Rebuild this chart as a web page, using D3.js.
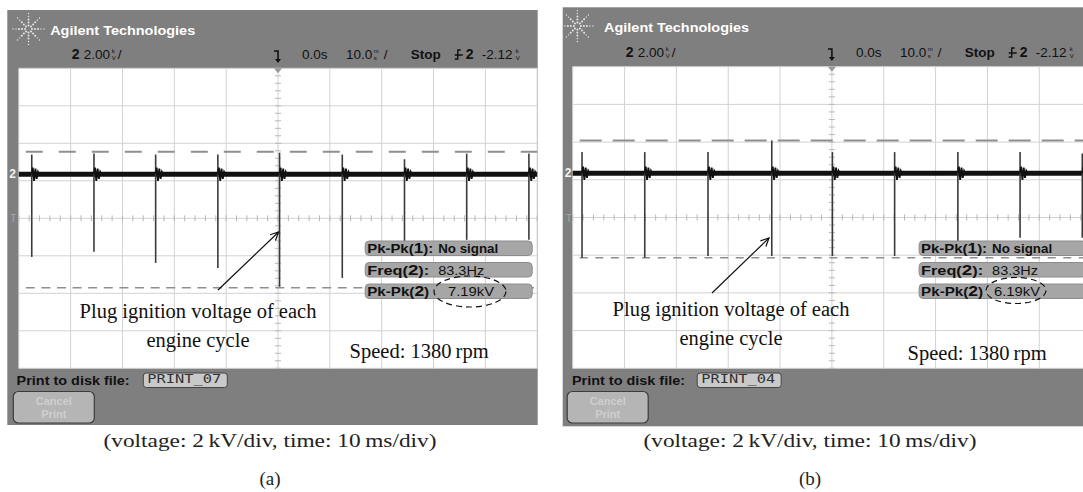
<!DOCTYPE html>
<html>
<head>
<meta charset="utf-8">
<script src="https://cdn.jsdelivr.net/npm/d3@7"></script>
<style>
  body { margin: 0; background: #fff; }
  svg { display: block; }
</style>
</head>
<body>
<div id="chart"></div>
<script>
// Data
//-----------
var timeTicks = [-50, -40, -30, -20, -10, 0, 10, 20, 30, 40, 50];   // ms, 10 ms/div
var voltDomain = [-10.35, 5.65];                                     // kV, 2 kV/div, ground 2.83 div below top

var spikeTimesA = [-47.5, -35.5, -23.6, -11.6, 0.3, 12.4, 24.4, 36.4, 48.4];
var spikeLowA   = [-4.41, -4.14, -4.73, -5.0, -6.0, -5.53, -4.0, -3.5, -3.5];
var spikeHighA  = [1.05, 1.1, 1.05, 1.05, 1.15, 1.05, 0.8, 1.1, 1.1];
var cursorsA    = [1.2, -6.06];

var spikeTimesB = [-48.2, -36.1, -23.9, -11.6, 0.1, 12.1, 24.3, 36.3, 48.3];
var spikeLowB   = [-4.48, -4.48, -4.39, -4.39, -4.39, -4.39, -4.0, -3.42, -3.42];
var spikeHighB  = [1.12, 1.12, 1.12, 1.74, 1.12, 1.12, 1.12, 1.12, 1.05];
var cursorsB    = [1.74, -4.48];

// ringing after each spike: [ms after spike, kV]
var ringShape = [[0.2, 0.35], [0.45, -0.35], [0.7, 0.3], [0.95, -0.25], [1.2, 0.12], [1.4, 0]];

var measLabels = ["Pk-Pk(", "Freq(", "Pk-Pk("];
var measChannels = ["1", "2", "2"];
var measValuesA = ["No signal", "83.3Hz", "7.19kV"];
var measValuesB = ["No signal", "83.3Hz", "6.19kV"];

var fileNames = ["PRINT_07", "PRINT_04"];
var panelTags = ["(a)", "(b)"];
var caption = "(voltage: 2\u2009kV/div, time: 10\u2009ms/div)";
var noteLines = ["Plug ignition voltage of each", "engine cycle"];
var speedText = "Speed: 1380\u2009rpm";

// Layout of each panel
//-----------
var W = 1083, H = 492;
var panels = [
  { frame: {x: 7.3, y: 10, w: 530.4, h: 415}, grid: {x: 18.8, y: 68.3, w: 518.4, h: 300},
    times: spikeTimesA, low: spikeLowA, high: spikeHighA, cursors: cursorsA,
    dashUp: "17 16", dashLow: "9 6.6", values: measValuesA, file: fileNames[0], tag: panelTags[0],
    logo: {x: 28.5, y: 29}, headY: 35, rowY: 59,
    note: {x: 198, y: 318}, arrow: [[218, 290], [278.6, 232]], ellipse: {cx: 470, cy: 291.5, rx: 36, ry: 15.5},
    valueX: 448, speed: {x: 349.6, y: 358.3}, cx: 270 },
  { frame: {x: 562.7, y: 7.3, w: 530, h: 419}, grid: {x: 572.7, y: 66.7, w: 518.4, h: 301.6},
    times: spikeTimesB, low: spikeLowB, high: spikeHighB, cursors: cursorsB,
    dashUp: "22 11", dashLow: "8 7.6", values: measValuesB, file: fileNames[1], tag: panelTags[1],
    logo: {x: 577.4, y: 26}, headY: 32, rowY: 57,
    note: {x: 731, y: 316}, arrow: [[712, 293], [769, 238]], ellipse: {cx: 1016, cy: 290.5, rx: 30, ry: 13},
    valueX: 994, speed: {x: 907.6, y: 360}, cx: 810 }
];

var svg = d3.select("#chart").append("svg")
  .attr("width", W)
  .attr("height", H);

var sans = "'Liberation Sans', Arial, sans-serif";
var serif = "'Liberation Serif', 'Times New Roman', serif";

// tiny stacked unit, e.g. k over V
function stackUnit(g, x, y, top, bottom) {
  g.append("text").attr("x", x).attr("y", y - 6.5).text(top)
    .attr("font-family", sans).attr("font-size", "6px").attr("fill", "#111");
  g.append("text").attr("x", x).attr("y", y + 0.8).text(bottom)
    .attr("font-family", sans).attr("font-size", "6px").attr("fill", "#111");
}

function rowText(g, x, y, s, bold, size) {
  return g.append("text").attr("x", x).attr("y", y).text(s)
    .attr("font-family", sans).attr("font-weight", bold ? "bold" : "normal")
    .attr("font-size", (size || 13.5) + "px").attr("fill", "#111");
}

function drawPanel(p) {
  var g = svg.append("g");
  var gx = p.grid.x, gy = p.grid.y;

  // Scales
  //-----------
  var x = d3.scaleLinear([-50, 50], [gx, gx + p.grid.w]);
  var y = d3.scaleLinear(voltDomain, [gy + p.grid.h, gy]);
  var divT = 10, divV = 2;
  var voltTicks = d3.range(0, 9).map(function(i) { return voltDomain[0] + i * divV; });
  var vCenter = voltDomain[0] + 4 * divV;

  // Frame + screen
  g.append("rect").attr("x", p.frame.x).attr("y", p.frame.y)
    .attr("width", p.frame.w).attr("height", p.frame.h).attr("fill", "#7f7f7f");
  g.append("rect").attr("x", gx).attr("y", gy)
    .attr("width", p.grid.w).attr("height", p.grid.h).attr("fill", "#fff");

  // Grid
  //-----------
  g.selectAll(".vg").data(timeTicks).enter().append("line")
    .attr("x1", function(d) { return x(d); }).attr("x2", function(d) { return x(d); })
    .attr("y1", gy).attr("y2", gy + p.grid.h)
    .attr("stroke", "#d2d2d2").attr("stroke-width", 1);
  g.selectAll(".hg").data(voltTicks).enter().append("line")
    .attr("x1", gx).attr("x2", gx + p.grid.w)
    .attr("y1", function(d) { return y(d); }).attr("y2", function(d) { return y(d); })
    .attr("stroke", "#d2d2d2").attr("stroke-width", 1);

  // minor ticks on the centre lines
  var tMinor = d3.range(-50, 50.01, divT / 5);
  g.selectAll(".tm").data(tMinor).enter().append("line")
    .attr("x1", function(d) { return x(d); }).attr("x2", function(d) { return x(d); })
    .attr("y1", y(vCenter) - 3).attr("y2", y(vCenter) + 3)
    .attr("stroke", "#b8b8b8").attr("stroke-width", 1);
  var vMinor = d3.range(voltDomain[0], voltDomain[1] + 0.01, divV / 5);
  g.selectAll(".vm").data(vMinor).enter().append("line")
    .attr("x1", x(0) - 3).attr("x2", x(0) + 3)
    .attr("y1", function(d) { return y(d); }).attr("y2", function(d) { return y(d); })
    .attr("stroke", "#b8b8b8").attr("stroke-width", 1);

  // Cursors
  //-----------
  g.append("line").attr("x1", gx + 7).attr("x2", gx + p.grid.w)
    .attr("y1", y(p.cursors[0])).attr("y2", y(p.cursors[0]))
    .attr("stroke", "#8f8f8f").attr("stroke-width", 2).attr("stroke-dasharray", p.dashUp);
  g.append("line").attr("x1", gx + 7).attr("x2", gx + p.grid.w)
    .attr("y1", y(p.cursors[1])).attr("y2", y(p.cursors[1]))
    .attr("stroke", "#8f8f8f").attr("stroke-width", 1.5).attr("stroke-dasharray", p.dashLow);

  // Trace
  //-----------
  g.append("line").attr("x1", gx).attr("x2", gx + p.grid.w)
    .attr("y1", y(0)).attr("y2", y(0))
    .attr("stroke", "#111").attr("stroke-width", 5);

  g.selectAll(".spike").data(p.times).enter().append("line")
    .attr("x1", function(d) { return x(d); }).attr("x2", function(d) { return x(d); })
    .attr("y1", function(d, i) { return y(p.high[i]); })
    .attr("y2", function(d, i) { return y(p.low[i]); })
    .attr("stroke", "#3a3a3a").attr("stroke-width", 1.6);

  var ring = d3.line().x(function(d) { return x(d[0]); }).y(function(d) { return y(d[1]); });
  g.selectAll(".ring").data(p.times).enter().append("path")
    .attr("d", function(t) {
      return ring([[t, 0]].concat(ringShape.map(function(r) { return [t + r[0], r[1]]; })));
    })
    .attr("fill", "none").attr("stroke", "#111").attr("stroke-width", 1.8);

  // markers on the left border
  g.append("text").attr("x", p.frame.x + 2).attr("y", y(0) + 4).text("2")
    .attr("font-family", sans).attr("font-weight", "bold").attr("font-size", "12px").attr("fill", "#f2f2f2");
  g.append("text").attr("x", p.frame.x + 3).attr("y", y(-2.35) + 4).text("T")
    .attr("font-family", sans).attr("font-size", "10px").attr("fill", "#a8a8a8");

  // Header
  //-----------
  var rays = d3.range(0, 360, 45);
  rays.forEach(function(a) {
    var rad = a * Math.PI / 180;
    [3.5, 6.5, 9.5, 12.5, 15.5].forEach(function(r) {
      g.append("circle")
        .attr("cx", p.logo.x + r * Math.cos(rad)).attr("cy", p.logo.y + r * Math.sin(rad))
        .attr("r", r > 12 ? 0.7 : 1).attr("fill", "#e6e6e6");
    });
  });
  g.append("text").attr("x", gx + 31.4).attr("y", p.headY).text("Agilent Technologies")
    .attr("font-family", sans).attr("font-weight", "bold").attr("font-size", "13.5px")
    .attr("fill", "#fff").attr("textLength", 145).attr("lengthAdjust", "spacingAndGlyphs");

  var ry = p.rowY;
  rowText(g, gx + 53, ry, "2", true, 14);
  rowText(g, gx + 65, ry, "2.00");
  stackUnit(g, gx + 93, ry, "k", "V");
  rowText(g, gx + 99, ry, "/");

  // trigger position marker
  var tx = x(0);
  g.append("path").attr("d", "M" + (tx - 4) + "," + (ry - 8) + "h4v10")
    .attr("fill", "none").attr("stroke", "#111").attr("stroke-width", 1.6);
  g.append("path").attr("d", "M" + (tx - 3) + "," + (ry) + "l3,4l3,-4z").attr("fill", "#111");
  g.append("path").attr("d", "M" + (tx - 4) + "," + gy + "l4,5l4,-5z").attr("fill", "#999");

  rowText(g, gx + 283.2, ry, "0.0s");
  rowText(g, gx + 327.2, ry, "10.0");
  stackUnit(g, gx + 355, ry, "m", "s");
  rowText(g, gx + 365, ry, "/");
  rowText(g, gx + 392, ry, "Stop", true);
  var sx = gx + 437;
  g.append("path").attr("d", "M" + (sx - 1) + "," + (ry) + "h3v-9h3M" + (sx - 1) + "," + (ry - 4) + "h8")
    .attr("fill", "none").attr("stroke", "#111").attr("stroke-width", 1.4);
  rowText(g, gx + 447, ry, "2", true, 14);
  rowText(g, gx + 463, ry, "-2.12");
  stackUnit(g, gx + 497, ry, "k", "V");

  // Measurement boxes
  //-----------
  var bx = gx + 346.4;
  var boxTop = [241, 262.5, 284];
  var labelLen = [66, 62, 62];
  boxTop.forEach(function(by, i) {
    g.append("rect").attr("x", bx).attr("y", by).attr("width", 167).attr("height", 14.5)
      .attr("rx", 4).attr("fill", "#a6a6a6").attr("stroke", "#8c8c8c").attr("stroke-width", 1);
    var t = g.append("text").attr("x", bx + 2).attr("y", by + 12)
      .attr("font-family", sans).attr("font-weight", "bold").attr("font-size", "13px").attr("fill", "#111")
      .attr("textLength", labelLen[i]).attr("lengthAdjust", "spacingAndGlyphs");
    t.append("tspan").text(measLabels[i]);
    t.append("tspan").attr("font-size", "15px").text(measChannels[i]);
    t.append("tspan").text(i == 2 ? ")" : "):");
    if (i == 0) {
      g.append("text").attr("x", bx + 73).attr("y", by + 12).text(p.values[i])
        .attr("font-family", sans).attr("font-weight", "bold").attr("font-size", "13px").attr("fill", "#111")
        .attr("textLength", 60).attr("lengthAdjust", "spacingAndGlyphs");
    } else {
      g.append("text").attr("x", i == 1 ? bx + 73 : p.valueX).attr("y", by + 12).text(p.values[i])
        .attr("font-family", sans).attr("font-size", "13px").attr("fill", "#111")
        .attr("textLength", 46).attr("lengthAdjust", "spacingAndGlyphs");
    }
  });

  // Footer
  //-----------
  g.append("text").attr("x", p.frame.x + 9.3).attr("y", 384.5).text("Print to disk file:")
    .attr("font-family", sans).attr("font-weight", "bold").attr("font-size", "12.5px").attr("fill", "#111")
    .attr("textLength", 113).attr("lengthAdjust", "spacingAndGlyphs");
  g.append("rect").attr("x", gx + 124.5).attr("y", 373).attr("width", 84).attr("height", 14.5)
    .attr("rx", 3).attr("fill", "#c9c9c9").attr("stroke", "#444").attr("stroke-width", 1);
  g.append("text").attr("x", gx + 128.5).attr("y", 383).text(p.file)
    .attr("font-family", "'DejaVu Sans Mono', monospace").attr("font-size", "11.5px").attr("fill", "#333")
    .attr("textLength", 74).attr("lengthAdjust", "spacingAndGlyphs");
  g.append("rect").attr("x", gx - 5.5).attr("y", 391.5).attr("width", 81).attr("height", 31.5)
    .attr("rx", 5).attr("fill", "#b5b5b5").attr("stroke", "#3c3c3c").attr("stroke-width", 1.2);
  ["Cancel", "Print"].forEach(function(s, i) {
    g.append("text").attr("x", gx + 35).attr("y", 404.5 + i * 13).text(s)
      .attr("text-anchor", "middle").attr("font-family", sans).attr("font-weight", "bold")
      .attr("font-size", "11px").attr("fill", "#cfcfcf");
  });

  // Annotations
  //-----------
  noteLines.forEach(function(s, i) {
    g.append("text").attr("x", p.note.x).attr("y", p.note.y + i * 28.5).text(s)
      .attr("text-anchor", "middle").attr("font-family", serif).attr("font-size", "20.5px").attr("fill", "#111");
  });
  var a0 = p.arrow[0], a1 = p.arrow[1];
  g.append("line").attr("x1", a0[0]).attr("y1", a0[1]).attr("x2", a1[0]).attr("y2", a1[1])
    .attr("stroke", "#111").attr("stroke-width", 1.2);
  var ang = Math.atan2(a1[1] - a0[1], a1[0] - a0[0]);
  var hl = 9, hw = 0.45;
  g.append("path").attr("d",
      "M" + (a1[0] - hl * Math.cos(ang - hw)) + "," + (a1[1] - hl * Math.sin(ang - hw)) +
      "L" + a1[0] + "," + a1[1] +
      "L" + (a1[0] - hl * Math.cos(ang + hw)) + "," + (a1[1] - hl * Math.sin(ang + hw)))
    .attr("fill", "none").attr("stroke", "#111").attr("stroke-width", 1.2);
  g.append("ellipse").attr("cx", p.ellipse.cx).attr("cy", p.ellipse.cy)
    .attr("rx", p.ellipse.rx).attr("ry", p.ellipse.ry)
    .attr("fill", "none").attr("stroke", "#111").attr("stroke-width", 1.2).attr("stroke-dasharray", "6 4");
  g.append("text").attr("x", p.speed.x).attr("y", p.speed.y).text(speedText)
    .attr("font-family", serif).attr("font-size", "20.5px").attr("fill", "#111");

  // Caption
  //-----------
  svg.append("text").attr("x", p.cx).attr("y", 447).text(caption)
    .attr("text-anchor", "middle").attr("font-family", serif).attr("font-size", "19px").attr("fill", "#222")
    .attr("textLength", 333).attr("lengthAdjust", "spacingAndGlyphs");
  svg.append("text").attr("x", p.cx).attr("y", 485).text(p.tag)
    .attr("text-anchor", "middle").attr("font-family", serif).attr("font-size", "19px").attr("fill", "#222");
}

panels.forEach(drawPanel);
</script>
</body>
</html>
